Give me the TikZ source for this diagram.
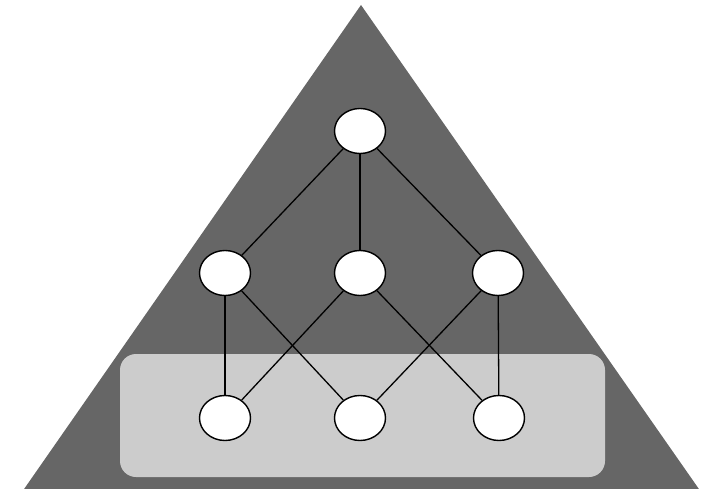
\documentclass[tikz,border=0pt]{standalone}
\usetikzlibrary{shapes.geometric}
\definecolor{darkfill}{HTML}{666666}
\definecolor{lightfill}{HTML}{CCCCCC}
\begin{document}
\begin{tikzpicture}[x=1pt,y=-1pt,
  vnode/.style={ellipse,draw=black,line width=1.4pt,fill=white,minimum width=51pt,minimum height=45pt,inner sep=0pt},
  edge/.style={draw=black,line width=1.3pt}]
\useasboundingbox (0,0) rectangle (715,489);
\clip (0,0) rectangle (715,489);
\fill[darkfill] (361,5) -- (22,492) -- (701,492) -- cycle;
\fill[lightfill,rounded corners=16pt] (120,354) rectangle (605,477);
\node[vnode] (t) at (360,131) {};
\node[vnode] (ml) at (225,273) {};
\node[vnode] (mm) at (360,273) {};
\node[vnode] (mr) at (498,273) {};
\node[vnode] (bl) at (225,418) {};
\node[vnode] (bm) at (360,418) {};
\node[vnode] (br) at (499,418) {};
\path[edge] (t) -- (ml);
\path[edge] (t) -- (mm);
\path[edge] (t) -- (mr);
\path[edge] (ml) -- (bl);
\path[edge] (ml) -- (bm);
\path[edge] (mm) -- (bl);
\path[edge] (mm) -- (br);
\path[edge] (mr) -- (bm);
\path[edge] (mr) -- (br);
\end{tikzpicture}
\end{document}
